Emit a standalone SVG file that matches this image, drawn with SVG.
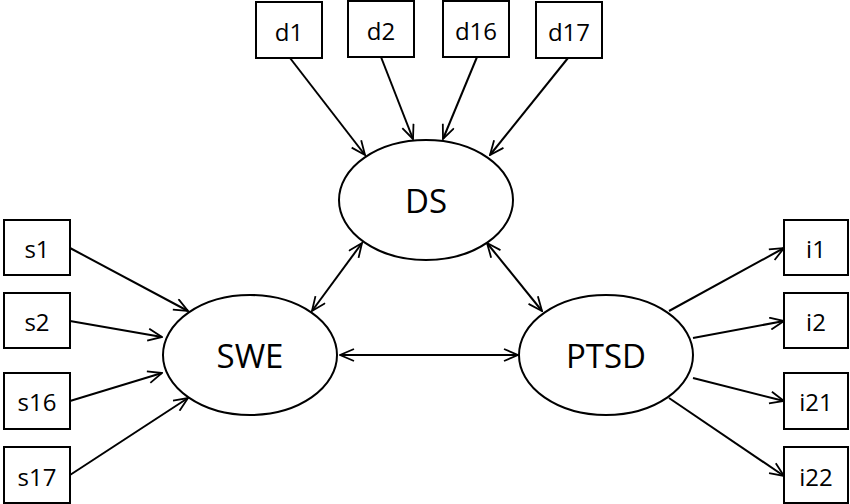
<svg xmlns="http://www.w3.org/2000/svg" width="850" height="504" viewBox="0 0 850 504">
<defs>
<marker id="ah" viewBox="0 0 16 14" refX="15" refY="7" markerWidth="16" markerHeight="14" markerUnits="userSpaceOnUse" orient="auto-start-reverse">
<path d="M1,1 L15,7 L1,13" fill="none" stroke="#000" stroke-width="1.8"/>
</marker>
<style>
.box{fill:#fff;stroke:#000;stroke-width:2}
.ell{fill:#fff;stroke:#000;stroke-width:2}
.t{font-family:"Open Sans","Liberation Sans",sans-serif;font-size:24px;text-anchor:middle;dominant-baseline:central;fill:#000}
.big{font-size:33px}
.c line{stroke:#000;stroke-width:2;fill:none}
</style>
</defs>
<rect width="850" height="504" fill="#fff"/>
<g class="c" id="connectors">
<line x1="290" y1="58" x2="365" y2="155" marker-end="url(#ah)"/>
<line x1="381" y1="57" x2="413" y2="139" marker-end="url(#ah)"/>
<line x1="477" y1="57" x2="443" y2="139" marker-end="url(#ah)"/>
<line x1="568" y1="58" x2="490" y2="155" marker-end="url(#ah)"/>
<line x1="70" y1="248" x2="188" y2="311" marker-end="url(#ah)"/>
<line x1="70" y1="321" x2="162" y2="337" marker-end="url(#ah)"/>
<line x1="70" y1="401" x2="162" y2="373" marker-end="url(#ah)"/>
<line x1="70" y1="475" x2="188" y2="398" marker-end="url(#ah)"/>
<line x1="669" y1="311" x2="784" y2="248" marker-end="url(#ah)"/>
<line x1="693" y1="338" x2="784" y2="321" marker-end="url(#ah)"/>
<line x1="693" y1="378" x2="784" y2="401" marker-end="url(#ah)"/>
<line x1="669" y1="398" x2="784" y2="476" marker-end="url(#ah)"/>
<line x1="362" y1="243" x2="312" y2="311" marker-start="url(#ah)" marker-end="url(#ah)"/>
<line x1="487" y1="243" x2="542" y2="311" marker-start="url(#ah)" marker-end="url(#ah)"/>
<line x1="340" y1="355" x2="518" y2="355" marker-start="url(#ah)" marker-end="url(#ah)"/>
</g>
<g id="DS"><ellipse class="ell" cx="426" cy="200" rx="87" ry="60"/><text class="t big" x="426" y="200">DS</text></g>
<g id="SWE"><ellipse class="ell" cx="250" cy="355" rx="87" ry="60"/><text class="t big" x="250" y="355">SWE</text></g>
<g id="PTSD"><ellipse class="ell" cx="606" cy="355" rx="87" ry="60"/><text class="t big" x="606" y="355">PTSD</text></g>
<g id="d1"><rect class="box" x="256" y="2" width="66" height="56"/><text class="t" x="289" y="31">d1</text></g>
<g id="d2"><rect class="box" x="348" y="1" width="66" height="56"/><text class="t" x="381" y="30">d2</text></g>
<g id="d16"><rect class="box" x="443" y="1" width="66" height="56"/><text class="t" x="476" y="30">d16</text></g>
<g id="d17"><rect class="box" x="536" y="2" width="66" height="56"/><text class="t" x="569" y="31">d17</text></g>
<g id="s1"><rect class="box" x="4" y="220" width="66" height="55"/><text class="t" x="37" y="248">s1</text></g>
<g id="s2"><rect class="box" x="4" y="293" width="66" height="55"/><text class="t" x="37" y="321">s2</text></g>
<g id="s16"><rect class="box" x="4" y="373" width="66" height="56"/><text class="t" x="37" y="401">s16</text></g>
<g id="s17"><rect class="box" x="4" y="447" width="66" height="56"/><text class="t" x="37" y="476">s17</text></g>
<g id="i1"><rect class="box" x="784" y="220" width="64" height="55"/><text class="t" x="816" y="248">i1</text></g>
<g id="i2"><rect class="box" x="784" y="293" width="64" height="55"/><text class="t" x="816" y="321">i2</text></g>
<g id="i21"><rect class="box" x="784" y="373" width="64" height="56"/><text class="t" x="816" y="401">i21</text></g>
<g id="i22"><rect class="box" x="784" y="447" width="64" height="56"/><text class="t" x="816" y="476">i22</text></g>
</svg>
